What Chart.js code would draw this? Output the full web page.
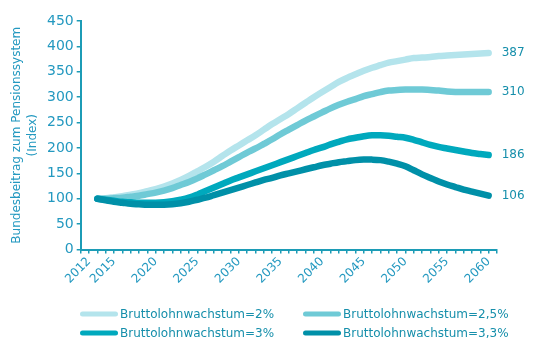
<!DOCTYPE html>
<html><head><meta charset="utf-8">
<script src="https://cdn.jsdelivr.net/npm/chart.js@4.4.1/dist/chart.umd.min.js"></script>
<style>html,body{margin:0;padding:0;background:#fff}</style>
</head><body>
<canvas id="c" width="544" height="361"></canvas>
<script>
// ---- data ----
const years = [2013,2014,2015,2016,2017,2018,2019,2020,2021,2022,2023,2024,2025,2026,2027,2028,2029,2030,2031,2032,2033,2034,2035,2036,2037,2038,2039,2040,2041,2042,2043,2044,2045,2046,2047,2048,2049,2050,2051,2052,2053,2054,2055,2056,2057,2058,2059,2060];
const seriesNames = ['Bruttolohnwachstum=2%','Bruttolohnwachstum=2,5%','Bruttolohnwachstum=3%','Bruttolohnwachstum=3,3%'];
const g20 = [100,101,103,105,108,111,115,119,124,130,137,145,154,163,173,184,195,205,215,225,236,247,257,267,278,289,300,310,320,330,338,345,352,358,363,368,371,374,377,378,379,381,382,383,384,385,386,387];
const g25 = [100,100,101,102,104,106,109,112,116,121,127,133,140,148,156,164,173,182,191,199,208,217,227,236,245,254,262,270,278,285,291,296,302,306,310,313,314,315,315,315,314,313,311,310,310,310,310,310];
const g30 = [100,98,96,94,93,92,92,92,93,95,98,102,108,115,122,129,136,142,148,154,160,166,172,178,184,190,196,201,207,212,217,220,223,225,225,224,222,220,216,211,206,202,199,196,193,190,188,186];
const g33 = [100,97,94,92,90,89,88,88,88,89,91,94,98,102,107,112,117,122,127,132,137,141,146,150,154,158,162,166,169,172,174,176,177,177,176,173,169,164,156,148,141,134,128,123,118,114,110,106];
const endValues = [387,310,186,106];
const xLabelYears = [2012,2015,2020,2025,2030,2035,2040,2045,2050,2055,2060];
const yTitle = ['Bundesbeitrag zum Pensionssystem','(Index)'];

// ---- style ----
const colors = ['#b4e4ec','#6fcad6','#00a9bd','#0090a8'];
const axisColor = '#1c9cb6';
const tickColor = '#2499c0';
const textColor = '#168fab';
const FONT = '"DejaVu Sans", sans-serif';

const allSeries = [g20,g25,g30,g33];
const datasets = allSeries.map((s,i)=>({
  label: seriesNames[i],
  data: years.map((y,j)=>({x:y, y:s[j]})),
  borderColor: colors[i],
  backgroundColor: colors[i],
  borderWidth: 6.5,
  borderCapStyle: 'round',
  borderJoinStyle: 'round',
  pointRadius: 0,
  tension: 0.35,
  fill: false,
  order: 3 - i
}));

const overlay = {
  id: 'overlay',
  afterDraw(chart){
    const ctx = chart.ctx;
    ctx.save();
    // end labels
    ctx.font = '12px ' + FONT;
    ctx.fillStyle = textColor;
    ctx.textBaseline = 'middle';
    ctx.textAlign = 'left';
    chart.data.datasets.forEach((ds,i)=>{
      const meta = chart.getDatasetMeta(i);
      const pt = meta.data[meta.data.length-1];
      ctx.fillText(String(endValues[i]), pt.x + 13, chart.scales.y.getPixelForValue(endValues[i]));
    });
    // legend (2 x 2)
    const cols = [80, 303];
    const rows = [314, 333];
    chart.data.datasets.forEach((ds,i)=>{
      const cx = cols[i % 2], cy = rows[Math.floor(i / 2)];
      ctx.strokeStyle = ds.borderColor;
      ctx.lineWidth = 5;
      ctx.lineCap = 'round';
      ctx.beginPath();
      ctx.moveTo(cx + 2.5, cy);
      ctx.lineTo(cx + 35.5, cy);
      ctx.stroke();
      ctx.fillStyle = textColor;
      ctx.font = '12px ' + FONT;
      ctx.fillText(ds.label, cx + 40, cy + 0.5);
    });
    ctx.restore();
  }
};

new Chart(document.getElementById('c'), {
  type: 'line',
  data: { datasets },
  plugins: [overlay],
  options: {
    responsive: false,
    animation: false,
    devicePixelRatio: 1,
    layout: { padding: { top: 21, right: 47, left: 0, bottom: 0 } },
    plugins: { legend: { display: false }, tooltip: { enabled: false } },
    scales: {
      x: {
        type: 'linear',
        min: 2011, max: 2061,
        afterBuildTicks: (s) => { const t=[]; for (let v=2011; v<=2061; v++) t.push({value:v}); s.ticks = t; },
        afterFit: (s) => { s.height = 361 - 249.5; },
        ticks: {
          autoSkip: false, minRotation: 45, maxRotation: 45,
          color: tickColor, padding: 1,
          font: { family: FONT, size: 12 },
          callback: (v) => xLabelYears.includes(v) ? String(v) : ''
        },
        grid: { drawOnChartArea: false, drawTicks: true, tickLength: 4, color: axisColor, lineWidth: 1.5 },
        border: { display: true, color: axisColor, width: 2 }
      },
      y: {
        min: 0, max: 450,
        afterFit: (s) => { s.width = 80.7; },
        ticks: { stepSize: 50, color: tickColor, padding: 3, font: { family: FONT, size: 14 } },
        grid: { drawOnChartArea: false, drawTicks: true, tickLength: 4, color: axisColor, lineWidth: 1.5 },
        border: { display: true, color: axisColor, width: 2 },
        title: { display: true, text: yTitle, color: tickColor, font: { family: FONT, size: 12, lineHeight: 1.35 }, padding: { top: 9, bottom: 0 } }
      }
    }
  }
});
</script>
</body></html>
